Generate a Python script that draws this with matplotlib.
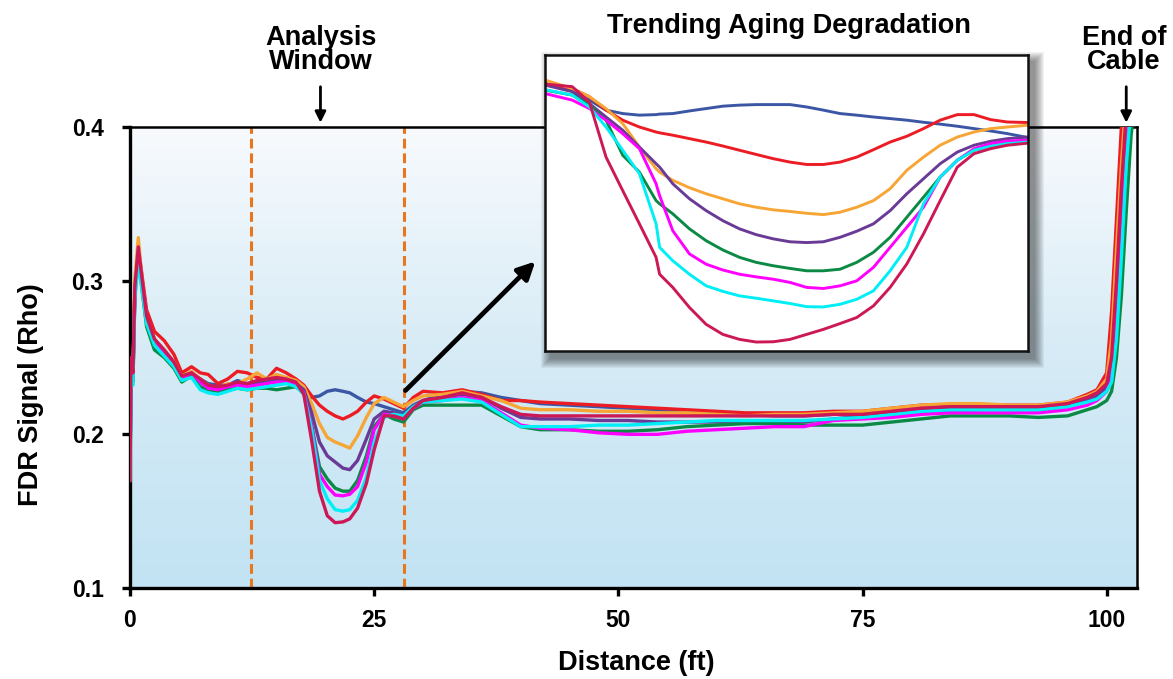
import numpy as np
import matplotlib
matplotlib.use("Agg")
import matplotlib.pyplot as plt
from matplotlib.colors import LinearSegmentedColormap
from matplotlib.patches import Rectangle

plt.rcParams['font.family'] = ['Liberation Sans', 'DejaVu Sans']
plt.rcParams['font.weight'] = 'bold'

# ---------------- data (main chart) ----------------
distance = [0.0, 0.1, 0.3, 0.5, 0.85, 1.2, 1.7,
            2.5, 3.5, 4.5, 5.3, 6.3, 7.2, 8.0,
            9.0, 10.0, 11.0, 12.0, 13.0, 14.0, 15.0, 16.0, 17.0,
            17.8, 18.6, 19.4, 20.2, 21.0, 21.8, 22.5, 23.3, 24.2, 25.0,
            26.0, 27.0, 28.0, 29.0, 30.0,
            32.0, 34.0, 36.0, 38.0, 40.0, 42.0,
            45.0, 48.0, 51.0, 54.0, 57.0, 60.0, 63.0, 66.0, 69.0, 72.0,
            75.0, 78.0, 81.0, 84.0, 87.0, 90.0, 93.0, 96.0,
            98.0, 99.0, 100.0, 100.5, 101.0, 101.5, 102.0, 102.5, 103.0]

rho_blue = [0.175, 0.240, 0.236, 0.295, 0.320, 0.300, 0.276,
            0.262, 0.254, 0.246, 0.238, 0.239, 0.236, 0.233,
            0.232, 0.232, 0.235, 0.233, 0.234, 0.235, 0.236, 0.236, 0.234,
            0.228, 0.224, 0.225, 0.228, 0.229, 0.228, 0.227, 0.224, 0.221, 0.220,
            0.218, 0.216, 0.214, 0.219, 0.222,
            0.226, 0.228, 0.227, 0.224, 0.222, 0.220,
            0.219, 0.218, 0.217, 0.216, 0.215, 0.214, 0.213, 0.212, 0.212, 0.213,
            0.213, 0.214, 0.216, 0.216, 0.217, 0.217, 0.217, 0.219,
            0.224, 0.226, 0.232, 0.248, 0.295, 0.355, 0.405, 0.420, 0.420]

rho_red = [0.200, 0.245, 0.240, 0.298, 0.322, 0.305, 0.281,
           0.267, 0.261, 0.252, 0.240, 0.244, 0.240, 0.239,
           0.233, 0.236, 0.241, 0.240, 0.237, 0.236, 0.243, 0.240, 0.236,
           0.232, 0.225, 0.219, 0.215, 0.212, 0.210, 0.212, 0.215, 0.221, 0.225,
           0.223, 0.220, 0.217, 0.224, 0.228,
           0.227, 0.229, 0.226, 0.222, 0.222, 0.221,
           0.220, 0.219, 0.218, 0.217, 0.216, 0.215, 0.214, 0.214, 0.214, 0.215,
           0.215, 0.217, 0.219, 0.219, 0.219, 0.219, 0.219, 0.221,
           0.226, 0.229, 0.240, 0.280, 0.340, 0.400, 0.420, 0.420, 0.420]

rho_orange = [0.180, 0.242, 0.240, 0.302, 0.328, 0.303, 0.276,
              0.262, 0.255, 0.247, 0.238, 0.241, 0.236, 0.232,
              0.230, 0.233, 0.233, 0.236, 0.240, 0.236, 0.239, 0.237, 0.235,
              0.231, 0.220, 0.207, 0.198, 0.195, 0.193, 0.191, 0.199, 0.211, 0.220,
              0.224, 0.221, 0.218, 0.222, 0.225,
              0.226, 0.228, 0.225, 0.222, 0.217, 0.216,
              0.216, 0.215, 0.215, 0.214, 0.214, 0.213, 0.212, 0.213, 0.213, 0.214,
              0.215, 0.217, 0.219, 0.220, 0.220, 0.219, 0.219, 0.221,
              0.225, 0.228, 0.236, 0.262, 0.320, 0.375, 0.420, 0.420, 0.420]

rho_purple = [0.175, 0.240, 0.236, 0.293, 0.318, 0.300, 0.274,
              0.259, 0.253, 0.245, 0.236, 0.239, 0.235, 0.231,
              0.229, 0.231, 0.233, 0.232, 0.233, 0.234, 0.235, 0.235, 0.233,
              0.229, 0.214, 0.195, 0.186, 0.182, 0.178, 0.177, 0.183, 0.197, 0.210,
              0.215, 0.214, 0.212, 0.218, 0.222,
              0.224, 0.226, 0.224, 0.217, 0.211, 0.210,
              0.210, 0.209, 0.209, 0.208, 0.208, 0.208, 0.208, 0.208, 0.208, 0.210,
              0.212, 0.213, 0.215, 0.215, 0.216, 0.216, 0.216, 0.218,
              0.222, 0.225, 0.230, 0.240, 0.285, 0.340, 0.395, 0.420, 0.420]

rho_green = [0.172, 0.238, 0.234, 0.290, 0.315, 0.296, 0.270,
             0.255, 0.250, 0.243, 0.234, 0.238, 0.231, 0.229,
             0.228, 0.229, 0.230, 0.229, 0.230, 0.230, 0.229, 0.230, 0.231,
             0.227, 0.206, 0.179, 0.171, 0.165, 0.163, 0.163, 0.170, 0.186, 0.205,
             0.213, 0.210, 0.208, 0.216, 0.219,
             0.219, 0.219, 0.219, 0.212, 0.205, 0.203,
             0.203, 0.202, 0.202, 0.203, 0.205, 0.206, 0.207, 0.207, 0.206, 0.206,
             0.206, 0.208, 0.210, 0.212, 0.212, 0.212, 0.211, 0.212,
             0.216, 0.218, 0.222, 0.228, 0.250, 0.290, 0.345, 0.395, 0.420]

rho_magenta = [0.175, 0.242, 0.238, 0.292, 0.318, 0.300, 0.274,
               0.260, 0.253, 0.245, 0.236, 0.240, 0.234, 0.230,
               0.229, 0.231, 0.232, 0.231, 0.232, 0.233, 0.234, 0.234, 0.232,
               0.227, 0.205, 0.174, 0.166, 0.1605, 0.160, 0.161, 0.166, 0.182, 0.203,
               0.213, 0.212, 0.210, 0.217, 0.221,
               0.222, 0.224, 0.222, 0.214, 0.206, 0.204,
               0.203, 0.201, 0.200, 0.200, 0.202, 0.203, 0.204, 0.205, 0.205, 0.209,
               0.210, 0.211, 0.213, 0.214, 0.214, 0.214, 0.214, 0.216,
               0.219, 0.222, 0.228, 0.236, 0.270, 0.325, 0.385, 0.420, 0.420]

rho_cyan = [0.170, 0.235, 0.232, 0.288, 0.312, 0.295, 0.272,
            0.258, 0.251, 0.244, 0.235, 0.237, 0.229, 0.227,
            0.226, 0.228, 0.230, 0.229, 0.230, 0.231, 0.232, 0.233, 0.231,
            0.226, 0.203, 0.170, 0.158, 0.151, 0.150, 0.151, 0.157, 0.172, 0.195,
            0.211, 0.213, 0.212, 0.218, 0.221,
            0.222, 0.223, 0.221, 0.213, 0.205, 0.205,
            0.205, 0.206, 0.206, 0.207, 0.208, 0.209, 0.209, 0.209, 0.209, 0.210,
            0.211, 0.213, 0.215, 0.216, 0.216, 0.216, 0.216, 0.218,
            0.221, 0.223, 0.228, 0.234, 0.262, 0.315, 0.375, 0.415, 0.420]

rho_crimson = [0.170, 0.250, 0.240, 0.296, 0.322, 0.303, 0.277,
               0.262, 0.255, 0.247, 0.238, 0.240, 0.236, 0.232,
               0.231, 0.232, 0.234, 0.233, 0.235, 0.236, 0.237, 0.236, 0.234,
               0.226, 0.196, 0.163, 0.147, 0.1425, 0.143, 0.145, 0.152, 0.168, 0.190,
               0.212, 0.212, 0.210, 0.217, 0.222,
               0.224, 0.227, 0.224, 0.218, 0.213, 0.212,
               0.212, 0.212, 0.212, 0.212, 0.212, 0.212, 0.212, 0.212, 0.212, 0.213,
               0.213, 0.215, 0.217, 0.218, 0.218, 0.218, 0.218, 0.220,
               0.224, 0.227, 0.233, 0.250, 0.300, 0.360, 0.410, 0.420, 0.420]

# ---------------- data (inset: zoom on the analysis window) ----------------
inset_distance = [17.0, 17.62, 18.01, 18.39, 18.77, 19.15, 19.53, 19.61, 19.91, 20.29,
                  20.67, 21.05, 21.43, 21.81, 22.20, 22.58, 22.96, 23.34, 23.72, 24.10,
                  24.48, 24.86, 25.24, 25.62, 26.00, 26.39, 26.77, 27.15, 27.53, 28.0]

inset_blue = [0.2407, 0.2382, 0.2344, 0.2306, 0.2293, 0.2287, 0.2289, 0.2291, 0.2293, 0.2303,
              0.2312, 0.2321, 0.2325, 0.2327, 0.2327, 0.2327, 0.2318, 0.2306, 0.2293, 0.2287,
              0.2280, 0.2274, 0.2268, 0.2260, 0.2253, 0.2245, 0.2236, 0.2227, 0.2217, 0.2202]
inset_red = [0.2405, 0.2388, 0.2357, 0.2306, 0.2268, 0.2242, 0.2223, 0.2220, 0.2211, 0.2198,
             0.2185, 0.2170, 0.2154, 0.2138, 0.2122, 0.2109, 0.2100, 0.2100, 0.2109, 0.2128,
             0.2156, 0.2185, 0.2207, 0.2236, 0.2268, 0.2289, 0.2289, 0.2270, 0.2261, 0.2259]
inset_orange = [0.2420, 0.2388, 0.2357, 0.2312, 0.2255, 0.2166, 0.2084, 0.2071, 0.2040, 0.2012,
                0.1989, 0.1970, 0.1951, 0.1938, 0.1928, 0.1922, 0.1915, 0.1910, 0.1919, 0.1938,
                0.1963, 0.2008, 0.2078, 0.2128, 0.2173, 0.2204, 0.2223, 0.2236, 0.2242, 0.2249]
inset_purple = [0.2401, 0.2376, 0.2331, 0.2280, 0.2230, 0.2166, 0.2103, 0.2090, 0.2027, 0.1970,
                0.1925, 0.1887, 0.1856, 0.1834, 0.1818, 0.1807, 0.1804, 0.1807, 0.1824, 0.1847,
                0.1875, 0.1925, 0.1989, 0.2046, 0.2103, 0.2147, 0.2173, 0.2188, 0.2198, 0.2204]
inset_green = [0.2382, 0.2363, 0.2325, 0.2268, 0.2135, 0.2071, 0.1963, 0.1951, 0.1913, 0.1856,
               0.1811, 0.1776, 0.1748, 0.1729, 0.1716, 0.1706, 0.1697, 0.1697, 0.1703, 0.1729,
               0.1767, 0.1824, 0.1900, 0.1976, 0.2052, 0.2116, 0.2154, 0.2169, 0.2179, 0.2185]
inset_magenta = [0.2369, 0.2344, 0.2312, 0.2268, 0.2217, 0.2160, 0.2027, 0.1982, 0.1849, 0.1761,
                 0.1722, 0.1700, 0.1684, 0.1674, 0.1665, 0.1653, 0.1634, 0.1630, 0.1640, 0.1659,
                 0.1710, 0.1786, 0.1862, 0.1938, 0.2052, 0.2116, 0.2160, 0.2179, 0.2189, 0.2192]
inset_cyan = [0.2384, 0.2363, 0.2318, 0.2242, 0.2154, 0.2065, 0.1875, 0.1786, 0.1735, 0.1684,
              0.1640, 0.1619, 0.1602, 0.1593, 0.1583, 0.1573, 0.1561, 0.1560, 0.1570, 0.1589,
              0.1621, 0.1697, 0.1786, 0.1951, 0.2052, 0.2116, 0.2154, 0.2169, 0.2179, 0.2185]
inset_crimson = [0.2405, 0.2395, 0.2337, 0.2128, 0.2001, 0.1875, 0.1748, 0.1684, 0.1634, 0.1558,
                 0.1494, 0.1456, 0.1437, 0.1427, 0.1428, 0.1437, 0.1456, 0.1475, 0.1497, 0.1520,
                 0.1564, 0.1634, 0.1723, 0.1837, 0.1963, 0.2090, 0.2141, 0.2160, 0.2173, 0.2181]

series_colors = ['#3a56a5', '#ec1c24', '#f7a535', '#6a3b96',
                 '#0a8a45', '#ff00ff', '#00eef5', '#cc1856']
main_series = [rho_blue, rho_red, rho_orange, rho_purple,
               rho_green, rho_magenta, rho_cyan, rho_crimson]
inset_series = [inset_blue, inset_red, inset_orange, inset_purple,
                inset_green, inset_magenta, inset_cyan, inset_crimson]

window_bounds = [12.4, 28.1]
x_ticks = [0, 25, 50, 75, 100]
y_ticks = [0.1, 0.2, 0.3, 0.4]

# ---------------- figure ----------------
W, H = 1173, 679
fig = plt.figure(figsize=(W / 100, H / 100), dpi=100)
fig.patch.set_facecolor('white')


def fx(px):
    return px / W


def fy(py):
    return 1 - py / H


ax = fig.add_axes([fx(130), fy(588), fx(1137) - fx(130), fy(127) - fy(588)])
XMAX = 103.1
grad = np.linspace(0, 1, 256).reshape(-1, 1)
cmap_bg = LinearSegmentedColormap.from_list('bg', ['#c2e3f3', '#d6ebf6', '#f8fafd'])
ax.imshow(grad, extent=[0, XMAX, 0.1, 0.4], origin='lower', aspect='auto',
          cmap=cmap_bg, zorder=0, interpolation='bicubic')

for vals, col in zip(main_series, series_colors):
    ax.plot(distance, vals, color=col, lw=2.4, zorder=3, solid_joinstyle='round')

for xb in window_bounds:
    ax.axvline(xb, color='#e8761e', lw=2.2, dashes=(3.2, 1.6), zorder=2)

ax.set_xlim(0, XMAX)
ax.set_ylim(0.1, 0.4)
ax.set_xticks(x_ticks)
ax.set_xticklabels([str(t) for t in x_ticks])
ax.set_yticks(y_ticks)
ax.set_yticklabels([f"{t:.1f}" for t in y_ticks])
ax.tick_params(axis='y', direction='out', length=6, width=2.4, labelsize=16.5,
               pad=13, color='black')
ax.tick_params(axis='x', direction='out', length=6, width=2.4, labelsize=16.5,
               pad=9, color='black')
for lab in ax.get_xticklabels() + ax.get_yticklabels():
    lab.set_fontweight('bold')
for side in ['left', 'bottom']:
    ax.spines[side].set_linewidth(2.4)
for side in ['top', 'right']:
    ax.spines[side].set_linewidth(1.8)

ax.set_xlabel('Distance (ft)', fontsize=19.5, fontweight='bold', va='center')
ax.set_ylabel('FDR Signal (Rho)', fontsize=19.5, fontweight='bold', va='center')
ax.xaxis.set_label_coords((636 - 130) / 1007, -(663 - 588) / 461)
ax.yaxis.set_label_coords(-(130 - 31) / 1007, (588 - 395) / 461)

# annotations above the chart
ax.annotate('', xy=(19.5, 0.401), xytext=(19.5, 0.428),
            arrowprops=dict(arrowstyle='-|>', color='black', lw=2,
                            mutation_scale=16), annotation_clip=False)
fig.text(fx(321), fy(50), 'Analysis\nWindow', ha='center', va='center',
         fontsize=19.5, fontweight='bold', linespacing=0.88)

ax.annotate('', xy=(102.0, 0.401), xytext=(102.0, 0.428),
            arrowprops=dict(arrowstyle='-|>', color='black', lw=2,
                            mutation_scale=16), annotation_clip=False)
fig.text(fx(1124), fy(50), 'End of\nCable', ha='center', va='center',
         fontsize=19.5, fontweight='bold', linespacing=0.88)

fig.text(fx(789), fy(26), 'Trending Aging Degradation', ha='center', va='center',
         fontsize=19.5, fontweight='bold')

# long pointer arrow toward inset
ax.annotate('', xy=(41.5, 0.3125), xytext=(28.2, 0.2285),
            arrowprops=dict(arrowstyle='-|>', color='black', lw=3.4,
                            mutation_scale=26, shrinkA=0, shrinkB=0),
            annotation_clip=False, zorder=6)

# inset shadow
ix0, ix1, iy0, iy1 = 545, 1028, 55, 351
for i in range(10):
    grow = 10 - i
    rect = Rectangle((fx(ix0 + 6 - grow), fy(iy1 + 7 + grow)),
                     fx(ix1 - ix0 + 2 * grow), fy(0) - fy(iy1 - iy0 + 2 * grow),
                     transform=fig.transFigure, facecolor='black',
                     alpha=0.05, edgecolor='none', zorder=3)
    fig.patches.append(rect)

axin = fig.add_axes([fx(ix0), fy(iy1), fx(ix1) - fx(ix0), fy(iy0) - fy(iy1)])
axin.set_zorder(10)
axin.set_facecolor('white')
for vals, col in zip(inset_series, series_colors):
    axin.plot(inset_distance, vals, color=col, lw=2.1, solid_joinstyle='round',
              solid_capstyle='round')
axin.set_xlim(17.0, 28.0)
axin.set_ylim(0.1393, 0.2515)
axin.set_xticks([])
axin.set_yticks([])
for s in axin.spines.values():
    s.set_linewidth(1.8)
    s.set_color('#111111')

fig.savefig('out.png', dpi=100)
